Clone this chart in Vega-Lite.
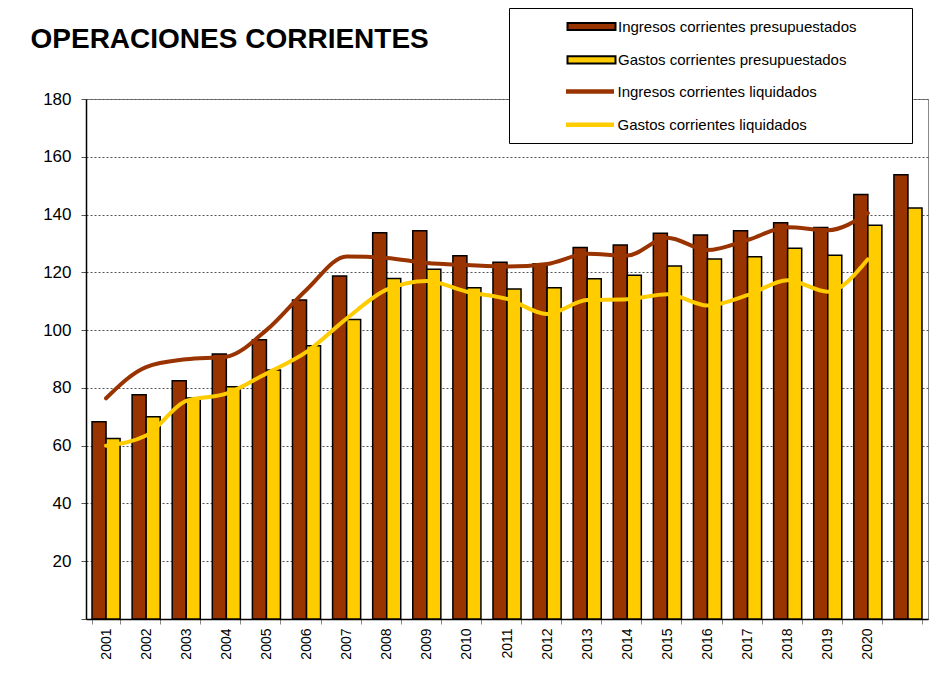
{
  "$schema": "https://vega.github.io/schema/vega-lite/v6.json",
  "width": 842,
  "height": 520,
  "autosize": {"type": "none"},
  "padding": {"left": 86, "top": 99, "right": 12, "bottom": 74},
  "background": "white",
  "config": {
    "view": {"stroke": "#888888", "strokeWidth": 1},
    "font": "Liberation Sans"
  },
  "datasets": {
    "presupuesto": [
      {"year": "2001", "serie": "Ingresos corrientes presupuestados", "value": 68.3},
      {"year": "2002", "serie": "Ingresos corrientes presupuestados", "value": 77.6},
      {"year": "2003", "serie": "Ingresos corrientes presupuestados", "value": 82.5},
      {"year": "2004", "serie": "Ingresos corrientes presupuestados", "value": 91.7},
      {"year": "2005", "serie": "Ingresos corrientes presupuestados", "value": 96.7},
      {"year": "2006", "serie": "Ingresos corrientes presupuestados", "value": 110.4},
      {"year": "2007", "serie": "Ingresos corrientes presupuestados", "value": 118.7},
      {"year": "2008", "serie": "Ingresos corrientes presupuestados", "value": 133.7},
      {"year": "2009", "serie": "Ingresos corrientes presupuestados", "value": 134.4},
      {"year": "2010", "serie": "Ingresos corrientes presupuestados", "value": 125.7},
      {"year": "2011", "serie": "Ingresos corrientes presupuestados", "value": 123.5},
      {"year": "2012", "serie": "Ingresos corrientes presupuestados", "value": 123.0},
      {"year": "2013", "serie": "Ingresos corrientes presupuestados", "value": 128.6},
      {"year": "2014", "serie": "Ingresos corrientes presupuestados", "value": 129.5},
      {"year": "2015", "serie": "Ingresos corrientes presupuestados", "value": 133.5},
      {"year": "2016", "serie": "Ingresos corrientes presupuestados", "value": 132.9},
      {"year": "2017", "serie": "Ingresos corrientes presupuestados", "value": 134.4},
      {"year": "2018", "serie": "Ingresos corrientes presupuestados", "value": 137.2},
      {"year": "2019", "serie": "Ingresos corrientes presupuestados", "value": 135.5},
      {"year": "2020", "serie": "Ingresos corrientes presupuestados", "value": 146.9},
      {"year": "2021", "serie": "Ingresos corrientes presupuestados", "value": 153.8},
      {"year": "2001", "serie": "Gastos corrientes presupuestados", "value": 62.5},
      {"year": "2002", "serie": "Gastos corrientes presupuestados", "value": 70.0},
      {"year": "2003", "serie": "Gastos corrientes presupuestados", "value": 76.5},
      {"year": "2004", "serie": "Gastos corrientes presupuestados", "value": 80.4},
      {"year": "2005", "serie": "Gastos corrientes presupuestados", "value": 86.2},
      {"year": "2006", "serie": "Gastos corrientes presupuestados", "value": 94.6},
      {"year": "2007", "serie": "Gastos corrientes presupuestados", "value": 103.7},
      {"year": "2008", "serie": "Gastos corrientes presupuestados", "value": 117.9},
      {"year": "2009", "serie": "Gastos corrientes presupuestados", "value": 121.1},
      {"year": "2010", "serie": "Gastos corrientes presupuestados", "value": 114.7},
      {"year": "2011", "serie": "Gastos corrientes presupuestados", "value": 114.2},
      {"year": "2012", "serie": "Gastos corrientes presupuestados", "value": 114.7},
      {"year": "2013", "serie": "Gastos corrientes presupuestados", "value": 117.8},
      {"year": "2014", "serie": "Gastos corrientes presupuestados", "value": 119.0},
      {"year": "2015", "serie": "Gastos corrientes presupuestados", "value": 122.2},
      {"year": "2016", "serie": "Gastos corrientes presupuestados", "value": 124.6},
      {"year": "2017", "serie": "Gastos corrientes presupuestados", "value": 125.4},
      {"year": "2018", "serie": "Gastos corrientes presupuestados", "value": 128.3},
      {"year": "2019", "serie": "Gastos corrientes presupuestados", "value": 125.9},
      {"year": "2020", "serie": "Gastos corrientes presupuestados", "value": 136.3},
      {"year": "2021", "serie": "Gastos corrientes presupuestados", "value": 142.3}
    ],
    "liquidado": [
      {"year": "2001", "serie": "Ingresos corrientes liquidados", "value": 76.4},
      {"year": "2002", "serie": "Ingresos corrientes liquidados", "value": 87.2},
      {"year": "2003", "serie": "Ingresos corrientes liquidados", "value": 89.9},
      {"year": "2004", "serie": "Ingresos corrientes liquidados", "value": 90.8},
      {"year": "2005", "serie": "Ingresos corrientes liquidados", "value": 100.0},
      {"year": "2006", "serie": "Ingresos corrientes liquidados", "value": 114.0},
      {"year": "2007", "serie": "Ingresos corrientes liquidados", "value": 125.5},
      {"year": "2008", "serie": "Ingresos corrientes liquidados", "value": 125.0},
      {"year": "2009", "serie": "Ingresos corrientes liquidados", "value": 123.2},
      {"year": "2010", "serie": "Ingresos corrientes liquidados", "value": 122.5},
      {"year": "2011", "serie": "Ingresos corrientes liquidados", "value": 122.0},
      {"year": "2012", "serie": "Ingresos corrientes liquidados", "value": 122.9},
      {"year": "2013", "serie": "Ingresos corrientes liquidados", "value": 126.4},
      {"year": "2014", "serie": "Ingresos corrientes liquidados", "value": 125.8},
      {"year": "2015", "serie": "Ingresos corrientes liquidados", "value": 132.0},
      {"year": "2016", "serie": "Ingresos corrientes liquidados", "value": 127.7},
      {"year": "2017", "serie": "Ingresos corrientes liquidados", "value": 131.2},
      {"year": "2018", "serie": "Ingresos corrientes liquidados", "value": 135.6},
      {"year": "2019", "serie": "Ingresos corrientes liquidados", "value": 134.6},
      {"year": "2020", "serie": "Ingresos corrientes liquidados", "value": 140.5},
      {"year": "2001", "serie": "Gastos corrientes liquidados", "value": 60.0},
      {"year": "2002", "serie": "Gastos corrientes liquidados", "value": 63.5},
      {"year": "2003", "serie": "Gastos corrientes liquidados", "value": 75.5},
      {"year": "2004", "serie": "Gastos corrientes liquidados", "value": 78.0},
      {"year": "2005", "serie": "Gastos corrientes liquidados", "value": 85.0},
      {"year": "2006", "serie": "Gastos corrientes liquidados", "value": 92.5},
      {"year": "2007", "serie": "Gastos corrientes liquidados", "value": 104.0},
      {"year": "2008", "serie": "Gastos corrientes liquidados", "value": 114.0},
      {"year": "2009", "serie": "Gastos corrientes liquidados", "value": 117.0},
      {"year": "2010", "serie": "Gastos corrientes liquidados", "value": 113.3},
      {"year": "2011", "serie": "Gastos corrientes liquidados", "value": 110.8},
      {"year": "2012", "serie": "Gastos corrientes liquidados", "value": 105.6},
      {"year": "2013", "serie": "Gastos corrientes liquidados", "value": 110.4},
      {"year": "2014", "serie": "Gastos corrientes liquidados", "value": 110.7},
      {"year": "2015", "serie": "Gastos corrientes liquidados", "value": 112.4},
      {"year": "2016", "serie": "Gastos corrientes liquidados", "value": 108.5},
      {"year": "2017", "serie": "Gastos corrientes liquidados", "value": 112.1},
      {"year": "2018", "serie": "Gastos corrientes liquidados", "value": 117.3},
      {"year": "2019", "serie": "Gastos corrientes liquidados", "value": 113.3},
      {"year": "2020", "serie": "Gastos corrientes liquidados", "value": 124.5}
    ]
  },
  "encoding": {
    "x": {
      "field": "year",
      "type": "nominal",
      "sort": null,
      "scale": {
        "domain": ["2001","2002","2003","2004","2005","2006","2007","2008","2009","2010","2011","2012","2013","2014","2015","2016","2017","2018","2019","2020","2021"],
        "paddingInner": 0.3,
        "paddingOuter": 0.15
      },
      "axis": {
        "title": null,
        "labelAngle": 270,
        "labelAlign": "right",
        "labelBaseline": "middle",
        "labelFont": "Liberation Sans",
        "labelFontSize": 14,
        "labelColor": "black",
        "labelPadding": 4,
        "labelExpr": "datum.value == '2021' ? '' : datum.label",
        "tickBand": "extent",
        "tickSize": 5,
        "tickColor": "#888888",
        "domainColor": "black",
        "domainWidth": 1.5,
        "grid": false
      }
    },
    "y": {
      "field": "value",
      "type": "quantitative",
      "scale": {"domain": [0, 180], "nice": false},
      "axis": {
        "title": "OPERACIONES CORRIENTES",
        "titleAngle": 0,
        "titleAlign": "left",
        "titleBaseline": "alphabetic",
        "titleX": -56,
        "titleY": -52,
        "titleFont": "Liberation Sans",
        "titleFontSize": 28,
        "titleFontWeight": "bold",
        "titleColor": "black",
        "values": [0, 20, 40, 60, 80, 100, 120, 140, 160, 180],
        "labelExpr": "datum.value == 0 ? '' : datum.label",
        "labelFont": "Liberation Sans",
        "labelFontSize": 17,
        "labelColor": "black",
        "labelPadding": 10,
        "tickSize": 5,
        "tickColor": "#555555",
        "domainColor": "black",
        "domainWidth": 1.5,
        "grid": true,
        "gridColor": "#555555",
        "gridDash": [2, 2],
        "gridWidth": 1
      }
    }
  },
  "layer": [
    {
      "data": {"name": "presupuesto"},
      "mark": {"type": "bar", "stroke": "black", "strokeWidth": 1.5},
      "encoding": {
        "xOffset": {
          "field": "serie",
          "type": "nominal",
          "sort": null,
          "scale": {"domain": ["Ingresos corrientes presupuestados", "Gastos corrientes presupuestados"], "paddingInner": 0, "paddingOuter": 0}
        },
        "fill": {
          "field": "serie",
          "type": "nominal",
          "sort": null,
          "scale": {
            "domain": ["Ingresos corrientes presupuestados", "Gastos corrientes presupuestados"],
            "range": ["#993300", "#FFCC00"]
          },
          "legend": {
            "orient": "none",
            "legendX": 423,
            "legendY": -91,
            "title": "\u00a0",
            "titleOrient": "right",
            "titleAnchor": "start",
            "titleBaseline": "top",
            "titleFontSize": 114,
            "titlePadding": 45,
            "fillColor": "white",
            "strokeColor": "black",
            "padding": 11,
            "rowPadding": 16.3,
            "symbolType": "M-6,-0.9H6V0.9H-6Z",
            "symbolSize": 64,
            "symbolStrokeColor": "black",
            "symbolStrokeWidth": 2,
            "symbolOpacity": 1,
            "symbolOffset": 64,
            "labelOffset": 19,
            "labelFont": "Liberation Sans",
            "labelFontSize": 15,
            "labelColor": "black",
            "labelLimit": 500
          }
        }
      }
    },
    {
      "data": {"name": "liquidado"},
      "mark": {"type": "line", "strokeWidth": 4, "interpolate": "monotone", "strokeCap": "round"},
      "encoding": {
        "stroke": {
          "field": "serie",
          "type": "nominal",
          "sort": null,
          "scale": {
            "domain": ["Ingresos corrientes liquidados", "Gastos corrientes liquidados"],
            "range": ["#993300", "#FFCC00"]
          },
          "legend": {
            "orient": "none",
            "legendX": 423,
            "legendY": -26,
            "title": null,
            "padding": 11,
            "rowPadding": 14.3,
            "symbolType": "M-6,0H6",
            "symbolSize": 64,
            "symbolStrokeWidth": 4.5,
            "symbolOpacity": 1,
            "symbolOffset": 62.5,
            "labelOffset": 20,
            "labelFont": "Liberation Sans",
            "labelFontSize": 15,
            "labelColor": "black",
            "labelLimit": 500
          }
        }
      }
    }
  ]
}
